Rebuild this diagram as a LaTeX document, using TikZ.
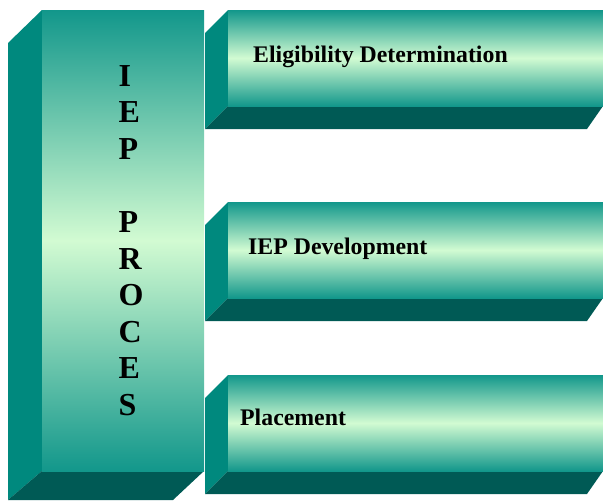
\documentclass[tikz,border=0pt]{standalone}
\usepackage{fontspec}
\setmainfont{Liberation Serif}
\definecolor{tealtop}{HTML}{12978B}
\definecolor{tealmid}{HTML}{D2FBD2}
\definecolor{sideface}{HTML}{00897E}
\definecolor{bottomface}{HTML}{005A55}
\tikzset{
  sidefill/.style={fill=sideface},
  bottomfill/.style={fill=bottomface},
  frontfill/.style={top color=tealtop, bottom color=tealtop, middle color=tealmid},
  boxlabel/.style={anchor=base west, inner sep=0pt, font=\bfseries\fontsize{23.8}{28}\selectfont},
  letter/.style={anchor=base west, inner sep=0pt, font=\bfseries\fontsize{32}{36}\selectfont}
}
\begin{document}
\begin{tikzpicture}[x=1pt,y=-1pt]
\useasboundingbox (0,0) rectangle (603,501);
% left tall block
\fill[sidefill] (8,43) -- (42,10) -- (42,471) -- (8,500) -- cycle;
\fill[bottomfill] (42,471) -- (204,471) -- (173,500) -- (8,500) -- cycle;
\shade[frontfill] (42,10) rectangle (204,471);
\foreach \ch/\yy [count=\k] in {I/86,E/122.6,P/159.2,P/232.4,R/269,O/305.6,C/342.2,E/378.8,S/415.4}
  \node[letter] (l\k) at (118.5,\yy) {\ch};
% right boxes
\foreach \t/\nm in {10/b1,202/b2,375/b3}{
  \fill[sidefill] (205,\t+23) -- (228,\t) -- (228,\t+96) -- (205,\t+119) -- cycle;
  \fill[bottomfill] (228,\t+96) -- (603,\t+96) -- (587,\t+119) -- (205,\t+119) -- cycle;
  \shade[frontfill] (228,\t) rectangle (603,\t+96);
}
\node[boxlabel] (t1) at (253,62.3) {Eligibility Determination};
\node[boxlabel] (t2) at (248,254) {IEP Development};
\node[boxlabel] (t3) at (240,425) {Placement};
\end{tikzpicture}
\end{document}
